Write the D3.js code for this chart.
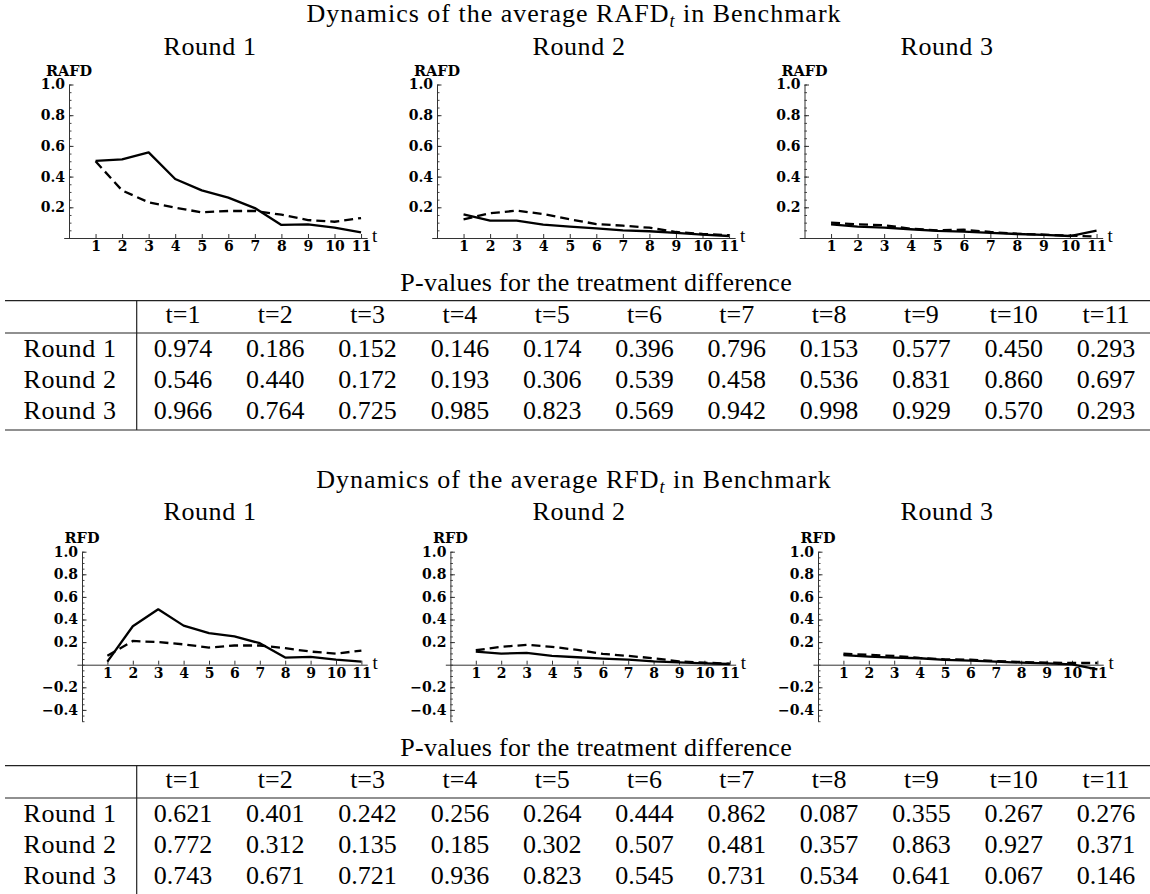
<!DOCTYPE html>
<html><head><meta charset="utf-8">
<script src="https://cdn.jsdelivr.net/npm/d3@7"></script>
<style>body{margin:0;background:#fff} svg{display:block}</style>
</head><body><svg id="c" width="1150" height="894"></svg>
<script>
// ---------- data ----------
const periods = [1,2,3,4,5,6,7,8,9,10,11];
const roundNames = ["Round 1","Round 2","Round 3"];
const rafdSolid = [
 [0.503,0.512,0.558,0.384,0.310,0.263,0.195,0.085,0.089,0.067,0.037],
 [0.154,0.113,0.113,0.087,0.074,0.063,0.050,0.044,0.033,0.022,0.013],
 [0.089,0.074,0.067,0.057,0.046,0.041,0.033,0.026,0.020,0.013,0.048]];
const rafdDashed = [
 [0.500,0.310,0.232,0.198,0.167,0.176,0.176,0.152,0.117,0.106,0.130],
 [0.122,0.161,0.178,0.156,0.122,0.091,0.080,0.067,0.039,0.026,0.018],
 [0.100,0.089,0.083,0.061,0.050,0.054,0.039,0.028,0.022,0.015,0.009]];
const rfdSolid = [
 [0.027,0.340,0.490,0.346,0.280,0.250,0.190,0.063,0.069,0.045,0.027],
 [0.116,0.098,0.104,0.078,0.066,0.054,0.045,0.030,0.021,0.012,0.006],
 [0.084,0.072,0.063,0.057,0.042,0.036,0.027,0.018,0.012,0.003,-0.042]];
const rfdDashed = [
 [0.080,0.210,0.200,0.180,0.152,0.170,0.170,0.146,0.116,0.098,0.125],
 [0.128,0.158,0.176,0.158,0.131,0.096,0.078,0.057,0.030,0.018,0.009],
 [0.098,0.087,0.078,0.060,0.048,0.045,0.033,0.024,0.018,0.015,0.015]];
const rafdTicks = [0.2,0.4,0.6,0.8,1.0];
const rfdTicks = [-0.4,-0.2,0.2,0.4,0.6,0.8,1.0];
const colHeaders = ["t=1","t=2","t=3","t=4","t=5","t=6","t=7","t=8","t=9","t=10","t=11"];
const pRafd = [
 ["0.974","0.186","0.152","0.146","0.174","0.396","0.796","0.153","0.577","0.450","0.293"],
 ["0.546","0.440","0.172","0.193","0.306","0.539","0.458","0.536","0.831","0.860","0.697"],
 ["0.966","0.764","0.725","0.985","0.823","0.569","0.942","0.998","0.929","0.570","0.293"]];
const pRfd = [
 ["0.621","0.401","0.242","0.256","0.264","0.444","0.862","0.087","0.355","0.267","0.276"],
 ["0.772","0.312","0.135","0.185","0.302","0.507","0.481","0.357","0.863","0.927","0.371"],
 ["0.743","0.671","0.721","0.936","0.823","0.545","0.731","0.534","0.641","0.067","0.146"]];

// ---------- drawing ----------
const svg = d3.select("#c");
const SERIF = '"Liberation Serif", "Times New Roman", serif';
const TICKF = '"DejaVu Serif", serif';

function title(y, name){
  const t = svg.append("text").attr("x",574).attr("y",y).attr("text-anchor","middle")
    .style("font-family",SERIF).attr("font-size",26).attr("letter-spacing",1.0).attr("fill","#000");
  t.append("tspan").text("Dynamics of the average " + name);
  t.append("tspan").attr("font-style","italic").attr("font-size",18).attr("dy",5).text("t");
  t.append("tspan").attr("dy",-5).text(" in Benchmark");
}

const roundCenters = [210, 579, 947];

function panel(cfg){
  const {x0, step, yDom, yRange, ticks, label, solid, dashed} = cfg;
  const g = svg.append("g");
  const x = d3.scaleLinear().domain([-0.2, 11.23]).range([x0 - 0.2*step, x0 + 11.23*step]);
  const y = d3.scaleLinear().domain(yDom).range(yRange);
  const minor = d3.range(Math.round(yDom[0]*20), Math.round(yDom[1]*20)+1).map(d=>d/20);
  g.append("g").attr("transform",`translate(${x(0)},0)`)
    .call(d3.axisLeft(y).tickValues(minor).tickSize(-2.5).tickFormat(""))
    .call(a=>a.select(".domain").remove())
    .selectAll("line").attr("stroke","#444");
  const ya = g.append("g").attr("transform",`translate(${x(0)},0)`)
    .call(d3.axisLeft(y).tickValues(ticks).tickSize(-4.5).tickSizeOuter(0).tickPadding(4).tickFormat(d3.format(".1f")));
  ya.select(".domain").attr("stroke","#333");
  ya.selectAll("line").attr("stroke","#333");
  ya.selectAll("text").style("font-family",TICKF).style("font-weight","bold").style("font-size","14px").attr("fill","#000")
    .text(d=>d<0 ? "\u2212"+d3.format(".1f")(-d) : d3.format(".1f")(d));
  const xa = g.append("g").attr("transform",`translate(0,${y(0)})`)
    .call(d3.axisBottom(x).tickValues(periods).tickSize(-4).tickSizeOuter(0).tickPadding(3).tickFormat(d3.format("d")));
  xa.select(".domain").attr("stroke","#333");
  xa.selectAll("line").attr("stroke","#333");
  xa.selectAll("text").style("font-family",TICKF).style("font-weight","bold").style("font-size","14px").attr("fill","#000");
  g.append("text").attr("x",x(11)+11).attr("y",y(0)+4).style("font-family",SERIF).attr("font-size",19).text("t");
  g.append("text").attr("x",x(0)).attr("y",y(yDom[1])-9).attr("text-anchor","middle")
    .style("font-family",TICKF).style("font-weight","bold").attr("font-size",14.5).text(label);
  const line = d3.line().x((d,i)=>x(periods[i])).y(d=>y(d));
  g.append("path").attr("d",line(dashed)).attr("fill","none").attr("stroke","#000")
    .attr("stroke-width",2.3).attr("stroke-dasharray","9,5");
  g.append("path").attr("d",line(solid)).attr("fill","none").attr("stroke","#000")
    .attr("stroke-width",2.3).attr("stroke-linejoin","round");
}

function roundLabels(y){
  roundNames.forEach((r,i)=>{
    svg.append("text").attr("x",roundCenters[i]).attr("y",y).attr("text-anchor","middle")
      .style("font-family",SERIF).attr("font-size",26).attr("letter-spacing",0.6).text(r);
  });
}

function table(top, data){
  const col = d3.scaleLinear().domain([1,11]).range([183, 1106]);
  const g = svg.append("g");
  g.append("text").attr("x",792).attr("y",top-10).attr("text-anchor","end")
    .style("font-family",SERIF).attr("font-size",26).attr("letter-spacing",0.3).text("P-values for the treatment difference");
  const rule = (yy)=>g.append("line").attr("x1",5).attr("x2",1150).attr("y1",yy).attr("y2",yy)
    .attr("stroke","#222").attr("stroke-width",1.2);
  rule(top); rule(top+32.3); rule(top+129.3);
  g.append("line").attr("x1",136.7).attr("x2",136.7).attr("y1",top).attr("y2",top+129.3)
    .attr("stroke","#222").attr("stroke-width",1.2);
  colHeaders.forEach((h,i)=>{
    g.append("text").attr("x",col(periods[i])).attr("y",top+22.3).attr("text-anchor","middle")
      .style("font-family",SERIF).attr("font-size",26).text(h);
  });
  data.forEach((row,r)=>{
    const yy = top + 55.8 + r*31.3;
    g.append("text").attr("x",70).attr("y",yy).attr("text-anchor","middle")
      .style("font-family",SERIF).attr("font-size",26).attr("letter-spacing",0.6).text(roundNames[r]);
    row.forEach((v,i)=>{
      g.append("text").attr("x",col(periods[i])).attr("y",yy).attr("text-anchor","middle")
        .style("font-family",SERIF).attr("font-size",26).text(v);
    });
  });
}

// top block
title(22, "RAFD");
roundLabels(55);
[69, 437, 804.5].forEach((x0,i)=>panel({x0, step:26.55, yDom:[0,1], yRange:[238,84.5], ticks:rafdTicks,
  label:"RAFD", solid:rafdSolid[i], dashed:rafdDashed[i]}));
table(300.7, pRafd);

// bottom block
title(488, "RFD");
roundLabels(520);
[82, 450.4, 818].forEach((x0,i)=>panel({x0, step:25.4, yDom:[-0.5,1], yRange:[721.2,551.7], ticks:rfdTicks,
  label:"RFD", solid:rfdSolid[i], dashed:rfdDashed[i]}));
table(765.7, pRfd);
</script></body></html>
